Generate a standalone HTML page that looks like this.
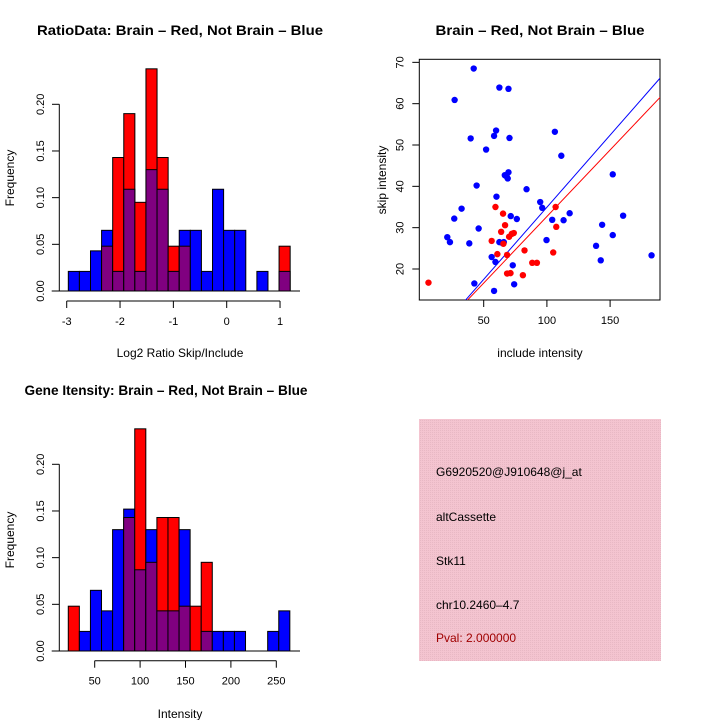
<!DOCTYPE html>
<html><head><meta charset="utf-8"><style>
html,body{margin:0;padding:0;background:#fff}
svg{display:block;font-family:"Liberation Sans",sans-serif}
</style></head><body>
<svg id="s" width="720" height="720" viewBox="0 0 720 720">
<defs><pattern id="pk" width="2" height="2" patternUnits="userSpaceOnUse"><rect width="2" height="2" fill="#f4c4d0"/><rect width="1" height="1" fill="#e8b8c4"/></pattern></defs>
<text x="180" y="35" font-size="14" font-weight="bold" text-anchor="middle" textLength="286" lengthAdjust="spacingAndGlyphs">RatioData: Brain – Red, Not Brain – Blue</text>
<text x="540" y="35" font-size="14" font-weight="bold" text-anchor="middle" textLength="209" lengthAdjust="spacingAndGlyphs">Brain – Red, Not Brain – Blue</text>
<text x="166" y="395" font-size="14" font-weight="bold" text-anchor="middle" textLength="283" lengthAdjust="spacingAndGlyphs">Gene Itensity: Brain – Red, Not Brain – Blue</text>
<text x="180" y="357" font-size="12" text-anchor="middle">Log2 Ratio Skip/Include</text>
<text x="180" y="718" font-size="12" text-anchor="middle">Intensity</text>
<text transform="translate(14,178) rotate(-90)" font-size="12" text-anchor="middle">Frequency</text>
<text transform="translate(14,540) rotate(-90)" font-size="12" text-anchor="middle">Frequency</text>
<text x="540" y="357" font-size="12" text-anchor="middle">include intensity</text>
<text transform="translate(386,180) rotate(-90)" font-size="12" text-anchor="middle">skip intensity</text>
<g>
<rect x="419" y="419" width="242" height="242" fill="url(#pk)"/>
<text x="436" y="476" font-size="12">G6920520@J910648@j_at</text>
<text x="436" y="521" font-size="12">altCassette</text>
<text x="436" y="565" font-size="12">Stk11</text>
<text x="436" y="609" font-size="12">chr10.2460–4.7</text>
<text x="436" y="642" font-size="12" fill="#a00000">Pval: 2.000000</text>
</g>
<g id="g1"></g><g id="g2"></g><g id="g3"></g>
</svg>
<script>
// Ratio histogram data
const ratioBinStart = -2.97, ratioBinWidth = 0.208;
const ratioBlue = [0.021,0.021,0.043,0.065,0.021,0.109,0.021,0.130,0.109,0.021,0.065,0.065,0.021,0.109,0.065,0.065,0,0.021,0,0.021];
const ratioRed  = [0,0,0,0.048,0.143,0.190,0.095,0.238,0.143,0.048,0.048,0,0,0,0,0,0,0,0,0.048];
const ratioXTicks = [-3,-2,-1,0,1];
const freqTicks = ["0.00","0.05","0.10","0.15","0.20"];
// Intensity histogram data
const intBinStart = 20.9, intBinWidth = 12.2;
const intBlue = [0,0.021,0.065,0.043,0.130,0.152,0.087,0.130,0.043,0.043,0.130,0,0.021,0.021,0.021,0.021,0,0,0.021,0.043];
const intRed  = [0.048,0,0,0,0,0.143,0.238,0.095,0.143,0.143,0.048,0.048,0.095,0,0,0,0,0,0,0];
const intXTicks = [50,100,150,200,250];
// Scatter data
const blueX = [42.1,27.0,62.4,69.6,59.8,58.2,39.7,70.4,51.9,106.3,111.4,66.7,68.3,69.6,69.0,44.4,83.9,60.1,94.7,96.3,32.5,26.7,71.4,76.2,104.2,113.2,118.0,46.0,21.2,23.3,38.6,62.4,65.1,65.9,99.7,56.3,59.3,73.0,74.1,42.6,58.2,152.1,160.3,143.7,152.1,138.9,142.6,182.8];
const blueY = [68.5,60.9,63.9,63.6,53.5,52.2,51.6,51.7,48.9,53.2,47.4,42.7,42.3,43.4,41.9,40.2,39.3,37.5,36.2,34.8,34.6,32.2,32.8,32.1,31.9,31.8,33.5,29.8,27.7,26.5,26.2,26.5,26.2,26.5,27.0,22.9,21.7,20.9,16.3,16.5,14.7,42.9,32.9,30.7,28.2,25.6,22.1,23.3];
const redX = [6.3,59.3,65.3,66.9,63.8,56.3,65.6,60.8,68.5,70.1,72.2,73.8,68.5,71.2,81.0,82.3,88.4,92.1,105.0,106.9,107.4];
const redY = [16.7,35.0,33.4,30.6,29.0,26.8,26.1,23.6,23.4,27.8,28.5,28.7,18.9,19.0,18.5,24.5,21.5,21.5,24.0,35.0,30.2];
const fitBlue = [0.04,0.349];
const fitRed = [0.5,0.322];
const scXTicks = [50,100,150];
const scYTicks = [20,30,40,50,60,70];

const NS="http://www.w3.org/2000/svg";
function mk(p,t,a){const e=document.createElementNS(NS,t);for(const k in a)e.setAttribute(k,a[k]);p.appendChild(e);return e;}

function hist(g,blue,red,start,w,xs,ys,xticks,xAxisY,nm){
  const y0=ys(0);
  for(let i=0;i<blue.length;i++){
    const a=start+i*w,b=a+w,x1=xs(a),x2=xs(b);
    const mx=Math.max(blue[i],red[i]),mn=Math.min(blue[i],red[i]);
    if(mx>0){
      const r=mk(g,'rect',{x:x1,y:ys(mx),width:x2-x1,height:y0-ys(mx),fill:red[i]>blue[i]?'#ff0000':'#0000ff',stroke:'#000','stroke-width':1});
      
      
    }
    if(mn>0){
      const r=mk(g,'rect',{x:x1,y:ys(mn),width:x2-x1,height:y0-ys(mn),fill:'#800080',stroke:'#000','stroke-width':1});
      
      
    }
  }
  const bl=mk(g,'line',{x1:51.7,x2:300,y1:y0,y2:y0,stroke:'#000','stroke-width':1});
  
  
  const ya=mk(g,'line',{x1:59.3,x2:59.3,y1:y0,y2:ys(0.2),stroke:'#000'});
  
  
  freqTicks.forEach(t=>{const v=+t,y=ys(v);
    mk(g,'line',{x1:52,x2:59.3,y1:y,y2:y,stroke:'#000'});
    const tx=mk(g,'text',{transform:`translate(44,${y}) rotate(-90)`,'font-size':11,'text-anchor':'middle'});tx.textContent=t;
    
    });
  const xa=mk(g,'line',{x1:xs(xticks[0]),x2:xs(xticks[xticks.length-1]),y1:xAxisY,y2:xAxisY,stroke:'#000'});
  
  
  xticks.forEach(t=>{const x=xs(t);
    mk(g,'line',{x1:x,x2:x,y1:xAxisY,y2:xAxisY+7,stroke:'#000'});
    const tx=mk(g,'text',{x:x,y:xAxisY+24,'font-size':11,'text-anchor':'middle'});tx.textContent=t;
    
    });
}
hist(document.getElementById('g1'),ratioBlue,ratioRed,ratioBinStart,ratioBinWidth,
  v=>226.7+v*53.33, v=>291-v*(186.7/0.2), ratioXTicks, 301,'ratio');
hist(document.getElementById('g2'),intBlue,intRed,intBinStart,intBinWidth,
  v=>94.7+(v-50)*0.908, v=>651-v*(186.7/0.2), intXTicks, 660.7,'intensity');
(function(){
  const g=document.getElementById('g3');
  const L=419.3,R=660,T=59.3,B=300;
  const xs=v=>483.7+(v-50)*1.264, ys=v=>269-(v-20)*4.133;
  mk(g,'clipPath',{id:'cp'}).appendChild(document.createElementNS(NS,'rect'));
  const cr=g.querySelector('#cp rect');cr.setAttribute('x',L);cr.setAttribute('y',T);cr.setAttribute('width',R-L);cr.setAttribute('height',B-T);
  const box=mk(g,'rect',{x:L,y:T,width:R-L,height:B-T,fill:'none',stroke:'#000'});
  
  
  scXTicks.forEach(t=>{const x=xs(t);mk(g,'line',{x1:x,x2:x,y1:B,y2:B+7,stroke:'#000'});
    const tx=mk(g,'text',{x:x,y:B+24,'font-size':11,'text-anchor':'middle'});tx.textContent=t;
    
    });
  scYTicks.forEach(t=>{const y=ys(t);mk(g,'line',{x1:L-7,x2:L,y1:y,y2:y,stroke:'#000'});
    const tx=mk(g,'text',{transform:`translate(${L-16},${y}) rotate(-90)`,'font-size':11,'text-anchor':'middle'});tx.textContent=t;
    
    });
  const fx=[-10,200];
  [[fitBlue,'#0000ff','blue-fit-line'],[fitRed,'#ff0000','red-fit-line']].forEach(([f,c,n])=>{
    const l=mk(g,'line',{x1:xs(fx[0]),y1:ys(f[0]+f[1]*fx[0]),x2:xs(fx[1]),y2:ys(f[0]+f[1]*fx[1]),stroke:c,'stroke-width':1,'clip-path':'url(#cp)'});
    
    
  });
  blueX.forEach((v,i)=>{const c=mk(g,'circle',{cx:xs(v),cy:ys(blueY[i]),r:3.2,fill:'#0000ff'});
    
    });
  redX.forEach((v,i)=>{const c=mk(g,'circle',{cx:xs(v),cy:ys(redY[i]),r:3.2,fill:'#ff0000'});
    
    });
})();
</script>
</body></html>
